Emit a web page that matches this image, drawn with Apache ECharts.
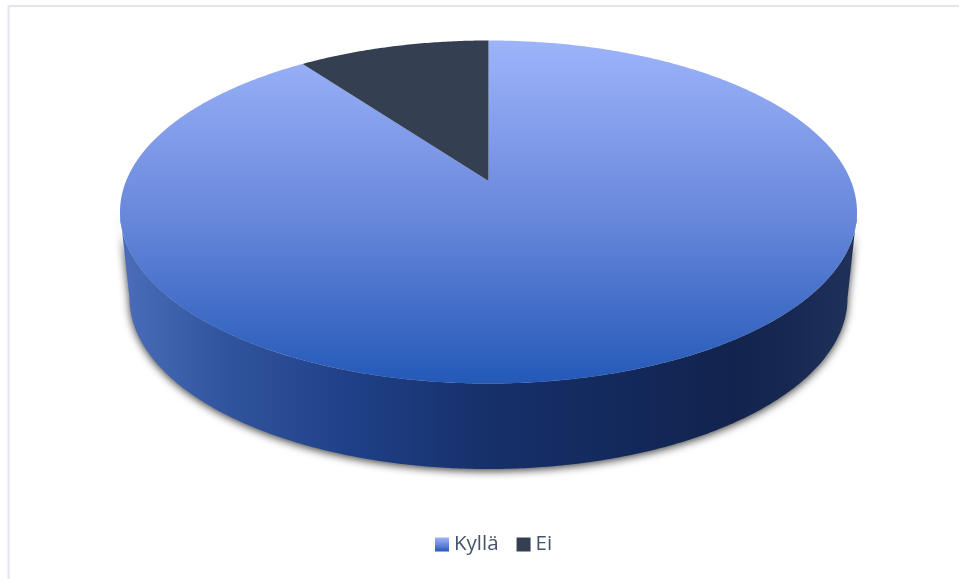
<!DOCTYPE html>
<html>
<head>
<meta charset="utf-8">
<style>html,body{margin:0;padding:0;background:#fff}#chart{width:959px;height:579px}</style>
<script src="https://cdn.jsdelivr.net/npm/echarts@6/dist/echarts.min.js"></script>
</head>
<body>
<div id="chart"></div>
<script>
// Answer shares
const categories = ['Kyllä', 'Ei'];
const values = [90, 10];

// Disc projection: the near rim is larger than the far rim, and the pie's
// hub sits above the middle of the top ellipse by `hubShift` of its height.
const topRim = { cx: 488.5, cy: 212, rx: 368.5, ry: 171.5 };
const baseRim = { cx: 488.5, cy: 298, rx: 359, ry: 171 };
const hubShift = 0.181;
const STEP = Math.PI / 360;

const TOP_STOPS = [
  { offset: 0, color: '#9db4fa' },
  { offset: 0.5, color: '#6a89dc' },
  { offset: 1, color: '#2459b8' }
];
const slicePaint = [
  { type: 'linear', x: 0, y: topRim.cy - topRim.ry, x2: 0, y2: topRim.cy + topRim.ry, global: true,
    colorStops: TOP_STOPS },
  '#343f51'
];
const legendPaint = [
  { type: 'linear', x: 0, y: 0, x2: 0, y2: 1, colorStops: TOP_STOPS },
  '#343f51'
];
const wallPaint = {
  type: 'linear', x: baseRim.cx - baseRim.rx, y: 0, x2: baseRim.cx + baseRim.rx, y2: 0, global: true,
  colorStops: [
    { offset: 0, color: '#4a6cb8' },
    { offset: 0.12, color: '#32569f' },
    { offset: 0.31, color: '#1f4087' },
    { offset: 0.5, color: '#16306a' },
    { offset: 0.71, color: '#13285a' },
    { offset: 0.84, color: '#12244e' },
    { offset: 0.92, color: '#172853' },
    { offset: 1, color: '#1f3059' }
  ]
};

// Maps a true pie angle (clockwise from 12 o'clock) onto an ellipse.
function rimPoint(rim, angle) {
  const c = Math.cos(angle), s = Math.sin(angle);
  const d = 1 + hubShift * c;
  const cosT = (c + hubShift) / d;
  const sinT = s * Math.sqrt(1 - hubShift * hubShift) / d;
  return [rim.cx + rim.rx * sinT, rim.cy - rim.ry * cosT];
}

function arcPoints(rim, from, to) {
  const pts = [];
  const n = Math.max(1, Math.ceil((to - from) / STEP));
  for (let i = 0; i <= n; i++) pts.push(rimPoint(rim, from + (to - from) * i / n));
  return pts;
}

const total = values.reduce((a, b) => a + b, 0);
const shareBefore = values.map((_, i) => values.slice(0, i).reduce((a, b) => a + b, 0));

function renderSlice(index) {
  return function (params, api) {
    const start = api.value(1) / total * 2 * Math.PI;
    const end = start + api.value(0) / total * 2 * Math.PI;
    const children = [];

    // Only the part of the side wall facing the viewer is drawn.
    const silhouette = Math.acos(-hubShift);
    const wallFrom = Math.max(start, silhouette);
    const wallTo = Math.min(end, 2 * Math.PI - silhouette);
    if (wallTo > wallFrom) {
      const wall = arcPoints(topRim, wallFrom, wallTo)
        .concat(arcPoints(baseRim, wallFrom, wallTo).reverse());
      children.push({
        type: 'polygon',
        shape: { points: wall },
        style: {
          fill: wallPaint,
          shadowBlur: 8,
          shadowColor: 'rgba(0,0,0,0.75)',
          shadowOffsetX: 0,
          shadowOffsetY: 2
        }
      });
    }

    const hub = [topRim.cx, topRim.cy - hubShift * topRim.ry];
    children.push({
      type: 'polygon',
      shape: { points: [hub].concat(arcPoints(topRim, start, end)) },
      style: { fill: slicePaint[index] }
    });
    return { type: 'group', children };
  };
}

const chart = echarts.init(document.getElementById('chart'), null, { renderer: 'canvas' });
chart.setOption({
  animation: false,
  backgroundColor: '#ffffff',
  graphic: [{
    type: 'rect',
    z: -1,
    shape: { x: 8.5, y: 6, width: 1000, height: 620 },
    style: { fill: '#ffffff', stroke: '#e1e5ec', lineWidth: 2 }
  }],
  legend: {
    left: 435,
    top: 534,
    padding: 0,
    itemWidth: 14,
    itemHeight: 14,
    itemGap: 18,
    icon: 'rect',
    data: categories,
    textStyle: { fontFamily: '"Open Sans"', fontSize: 20.5, color: '#44546a' }
  },
  series: categories.map((name, i) => ({
    type: 'custom',
    name,
    coordinateSystem: 'none',
    itemStyle: { color: legendPaint[i] },
    renderItem: renderSlice(i),
    data: [[values[i], shareBefore[i]]]
  }))
});
</script>
</body>
</html>
